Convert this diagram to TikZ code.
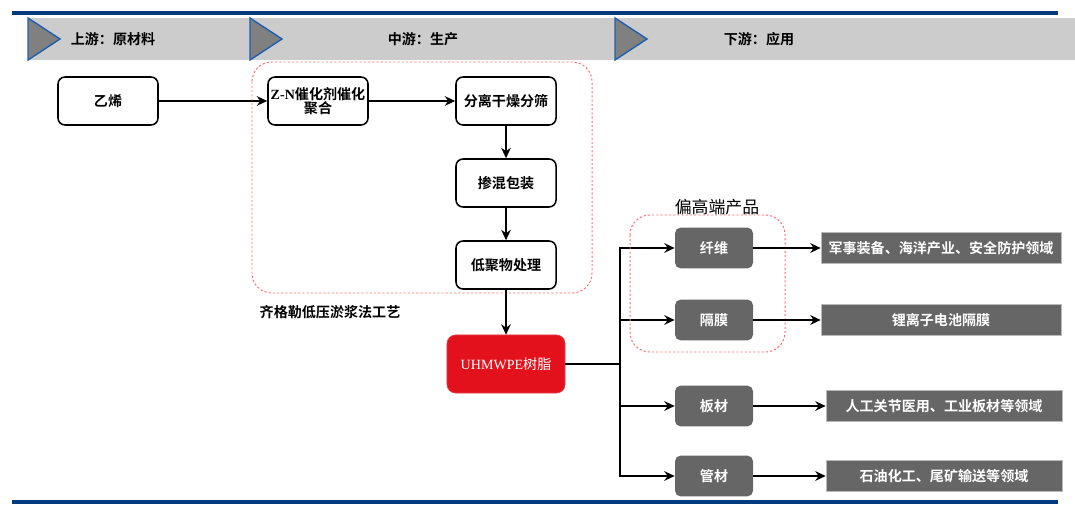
\documentclass[tikz,border=0pt]{standalone}
\usepackage{fontspec}
\setmainfont{Liberation Serif}
\newfontfamily\zhfont{Noto Sans CJK SC}[BoldFont={Noto Sans CJK SC Bold}]
\usetikzlibrary{arrows.meta}
\definecolor{rulebl}{HTML}{003B7F}
\definecolor{tribl}{HTML}{1F5FAF}
\definecolor{bandgr}{HTML}{CCCCCC}
\definecolor{trigr}{HTML}{808080}
\definecolor{resinred}{HTML}{E3111B}
\definecolor{appgr}{HTML}{666666}
\definecolor{dashred}{HTML}{FF6B6B}
\tikzset{
    chain diagram/.style = {>={Stealth[length=2.6mm, width=2.4mm]},
                            font=\zhfont\bfseries},
    line/.style        = {line width=1.1pt},
    procbox/.style     = {draw, line width=1.1pt, fill=white,
                          rounded corners=5pt, align=center,
                          minimum width=2.5cm, minimum height=1.2cm,
                          inner sep=1pt},
    resinbox/.style    = {draw=resinred!80, fill=resinred, text=white,
                          rounded corners=6pt, font=\zhfont,
                          minimum width=2.95cm, minimum height=1.45cm},
    appbox/.style      = {fill=appgr, text=white, rounded corners=4pt,
                          minimum width=1.95cm, minimum height=1.02cm},
    fieldbox/.style    = {draw=gray!55, fill=appgr, text=white,
                          minimum width=6cm, minimum height=0.78cm},
    headtext/.style    = {font=\zhfont\bfseries},
    enclosure/.style   = {draw=dashred, line width=0.7pt,
                          dash pattern=on 1.5pt off 1.5pt,
                          rounded corners=14pt}
}

\begin{document}
\begin{tikzpicture}[chain diagram, x=0.025cm, y=-0.025cm]
\useasboundingbox (0,0) rectangle (1075,510);

% ================= Header band =================
\draw[rulebl, line width=2.2pt] (12,13) -- (1058,13);
\fill[bandgr] (28,18) rectangle (1075,60);
\foreach \tx in {28, 250, 615}
    \draw[fill=trigr, draw=tribl, line width=1pt]
        (\tx,18) -- (\tx+32,39) -- (\tx,60) -- cycle;
\node[headtext] (up)   at (113,39) {上游：原材料};
\node[headtext] (mid)  at (423,39) {中游：生产};
\node[headtext] (down) at (759,39) {下游：应用};

% ================= Upstream: raw material =================
\node[procbox] (ethylene) at (108,101) {乙烯};

% ================= Midstream: production =================
\node[procbox] (poly) at (318,101)
    {{\rmfamily\bfseries Z-N}催化剂催化\\[-2pt]聚合};
\node[procbox] (sieve) at (506,101) {分离干燥分筛};
\node[procbox] (blend) at (506,183) {掺混包装};
\node[procbox] (oligo) at (506,265) {低聚物处理};

\draw[->, line] (ethylene) -- (poly);
\draw[->, line] (poly) -- (sieve);
\draw[->, line] (sieve) -- (blend);
\draw[->, line] (blend) -- (oligo);

\draw[enclosure] (252,62) rectangle (592,293);
\node (process) at (330,312) {齐格勒低压淤浆法工艺};

% ================= Resin =================
\node[resinbox] (resin) at (506,364)
    {{\rmfamily UHMWPE}树脂};
\draw[->, line] (oligo) -- (resin);

% ================= Downstream: products =================
\node[appbox] (fiber) at (714,248) {纤维};
\node[appbox] (film)  at (714,320) {隔膜};
\node[appbox] (plate) at (714,406) {板材};
\node[appbox] (pipe)  at (714,476) {管材};

\coordinate (split) at (620,364);
\draw[line] (resin) -- (split);
\draw[->, line] (split) |- (fiber);
\draw[->, line] (split) |- (film);
\draw[->, line] (split) |- (plate);
\draw[->, line] (split) |- (pipe);

\draw[enclosure] (630,215) rectangle (785,352);
\node[font=\zhfont\large] (highend) at (717,207) {偏高端产品};

% ================= Downstream: fields =================
\node[fieldbox] (military) at (941,248) {军事装备、海洋产业、安全防护领域};
\node[fieldbox] (battery)  at (941,320) {锂离子电池隔膜};
\node[fieldbox, minimum width=5.9cm] (medical) at (944,406)
    {人工关节医用、工业板材等领域};
\node[fieldbox, minimum width=5.9cm] (petro) at (944,476)
    {石油化工、尾矿输送等领域};

\draw[->, line] (fiber) -- (military);
\draw[->, line] (film)  -- (battery);
\draw[->, line] (plate) -- (medical);
\draw[->, line] (pipe)  -- (petro);

% ================= Bottom rule =================
\draw[rulebl, line width=2.2pt] (12,502) -- (1058,502);

\end{tikzpicture}
\end{document}
